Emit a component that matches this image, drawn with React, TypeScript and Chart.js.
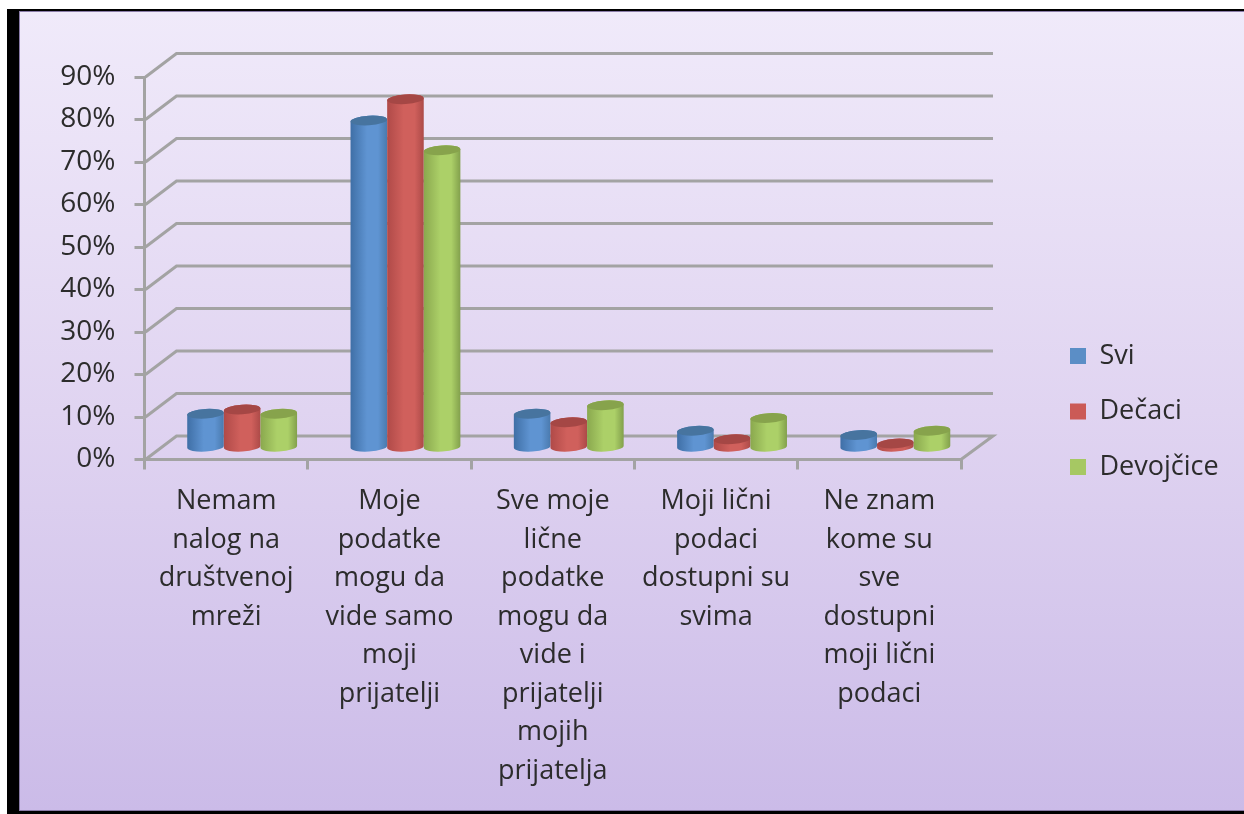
import React, { useEffect, useRef } from "react";
import { Chart, registerables } from "chart.js";

Chart.register(...registerables);

const categories = [
  ["Nemam", "nalog na", "društvenoj", "mreži"],
  ["Moje", "podatke", "mogu da", "vide samo", "moji", "prijatelji"],
  ["Sve moje", "lične", "podatke", "mogu da", "vide i", "prijatelji", "mojih", "prijatelja"],
  ["Moji lični", "podaci", "dostupni su", "svima"],
  ["Ne znam", "kome su", "sve", "dostupni", "moji lični", "podaci"],
];
const svi = [8, 77, 8, 4, 3];
const decaci = [9, 82, 6, 2, 1];
const devojcice = [8, 70, 10, 7, 4];

const FONT = "'Open Sans', sans-serif";
const GRID = "#a3a3a3";
const TEXT = "#2c2c2c";
const DEPTH_X = 32;
const DEPTH_Y = -23.5;

const shades = [
  { left: "#3f6fa6", mid: "#5f94d2", right: "#4a7aae", cap: "#47749f" },
  { left: "#b04a48", mid: "#d0605c", right: "#ac4a48", cap: "#a54745" },
  { left: "#8aa84e", mid: "#acd068", right: "#82a04c", cap: "#87a34c" },
];

const scenery = {
  id: "scenery",
  beforeLayout(chart: any) {
    const legend = chart.legend;
    if (legend && !legend.__wrapped) {
      const fit = legend.fit.bind(legend);
      legend.fit = () => {
        fit();
        legend.width = 1244 - 961;
      };
      legend.__wrapped = true;
    }
  },
  afterLayout(chart: any) {
    const legend = chart.legend;
    legend.left = 1070 - legend.options.labels.padding;
    legend.top -= 34;
    legend.bottom -= 34;
  },
  beforeDraw(chart: any) {
    const { ctx, width, height } = chart;
    ctx.save();
    ctx.fillStyle = "#ffffff";
    ctx.fillRect(0, 0, width, height);
    ctx.fillStyle = "#000000";
    ctx.fillRect(7, 9, width - 7, height - 9);
    const g = ctx.createLinearGradient(0, 11, 0, 811);
    g.addColorStop(0, "#f0eafa");
    g.addColorStop(0.5, "#e0d4f1");
    g.addColorStop(1, "#cbbbe8");
    ctx.fillStyle = "#8a7ca8";
    ctx.fillRect(19, 11, width - 19, 800);
    ctx.fillStyle = g;
    ctx.fillRect(20, 12, width - 20, 798);
    ctx.restore();
  },
  beforeDatasetsDraw(chart: any) {
    const { ctx, scales, chartArea } = chart;
    const y = scales.y;
    ctx.save();
    ctx.strokeStyle = GRID;
    ctx.lineWidth = 3;
    ctx.lineJoin = "miter";
    y.ticks.forEach((t: any) => {
      const py = y.getPixelForValue(t.value);
      ctx.beginPath();
      ctx.moveTo(chartArea.left + 1, py);
      ctx.lineTo(chartArea.left + DEPTH_X, py + DEPTH_Y);
      ctx.lineTo(chartArea.right + DEPTH_X, py + DEPTH_Y);
      if (t.value === 0) ctx.lineTo(chartArea.right, py);
      ctx.stroke();
    });
    ctx.restore();
  },
  beforeDatasetDraw() {
    return false;
  },
  afterDatasetsDraw(chart: any) {
    const { ctx } = chart;
    const dx = DEPTH_X / 2;
    const dy = DEPTH_Y / 2;
    const rot = -0.06;
    chart.data.datasets.forEach((_: any, i: number) => {
      const shade = shades[i];
      chart.getDatasetMeta(i).data.forEach((el: any) => {
        const rx = el.width / 2;
        const ry = 4.8;
        const cx = el.x + dx;
        const top = el.y + dy;
        const base = el.base + dy + 0.5;
        const g = ctx.createLinearGradient(cx - rx, 0, cx + rx, 0);
        g.addColorStop(0, shade.left);
        g.addColorStop(0.45, shade.mid);
        g.addColorStop(0.75, shade.mid);
        g.addColorStop(1, shade.right);
        ctx.save();
        ctx.beginPath();
        ctx.ellipse(cx, base, rx, ry, rot, 0, Math.PI);
        ctx.ellipse(cx, top, rx, ry, rot, Math.PI, 2 * Math.PI);
        ctx.closePath();
        ctx.fillStyle = g;
        ctx.fill();
        ctx.beginPath();
        ctx.ellipse(cx, top, rx, ry, rot, 0, 2 * Math.PI);
        ctx.fillStyle = shade.cap;
        ctx.fill();
        ctx.restore();
      });
    });
  },
};

export default function App() {
  const ref = useRef<HTMLCanvasElement>(null);
  useEffect(() => {
    document.body.style.margin = "0";
    const chart = new Chart(ref.current as HTMLCanvasElement, {
      type: "bar",
      data: {
        labels: categories,
        datasets: [
          { label: "Svi", data: svi, backgroundColor: "#5b8ec6" },
          { label: "Dečaci", data: decaci, backgroundColor: "#cb5a56" },
          { label: "Devojčice", data: devojcice, backgroundColor: "#a6c863" },
        ],
      },
      options: {
        animation: false,
        responsive: false,
        layout: { padding: { top: 77, left: 0, right: 0, bottom: 0 } },
        datasets: { bar: { categoryPercentage: 0.673, barPercentage: 1 } },
        plugins: {
          tooltip: { enabled: false },
          legend: {
            position: "right",
            labels: {
              boxWidth: 16,
              boxHeight: 16,
              padding: 28.5,
              color: TEXT,
              font: { family: FONT, size: 27, lineHeight: 1.25 },
            },
          },
        },
        scales: {
          x: {
            afterFit(scale: any) {
              scale.height = 814 - 459.5;
            },
            border: { color: GRID, width: 3 },
            grid: { drawOnChartArea: false, color: GRID, tickColor: GRID, tickWidth: 3, tickLength: 10, lineWidth: 3 },
            ticks: {
              color: TEXT,
              padding: 13,
              maxRotation: 0,
              minRotation: 0,
              autoSkip: false,
              font: { family: FONT, size: 27, lineHeight: 38.5 / 27 },
            },
          },
          y: {
            min: 0,
            max: 90,
            afterFit(scale: any) {
              scale.width = 144.5;
            },
            border: { color: GRID, width: 3 },
            grid: { drawOnChartArea: false, color: GRID, tickColor: GRID, tickWidth: 3, tickLength: 10, lineWidth: 3 },
            ticks: {
              stepSize: 10,
              color: TEXT,
              padding: 19,
              callback: (v: any) => v + "%",
              font: { family: FONT, size: 28 },
            },
          },
        },
      } as any,
      plugins: [scenery as any],
    });
    return () => chart.destroy();
  }, []);
  return (
    <div style={{ position: "absolute", left: 0, top: 0, width: 1244, height: 814 }}>
      <canvas ref={ref} width={1244} height={814} style={{ display: "block" }} />
    </div>
  );
}
